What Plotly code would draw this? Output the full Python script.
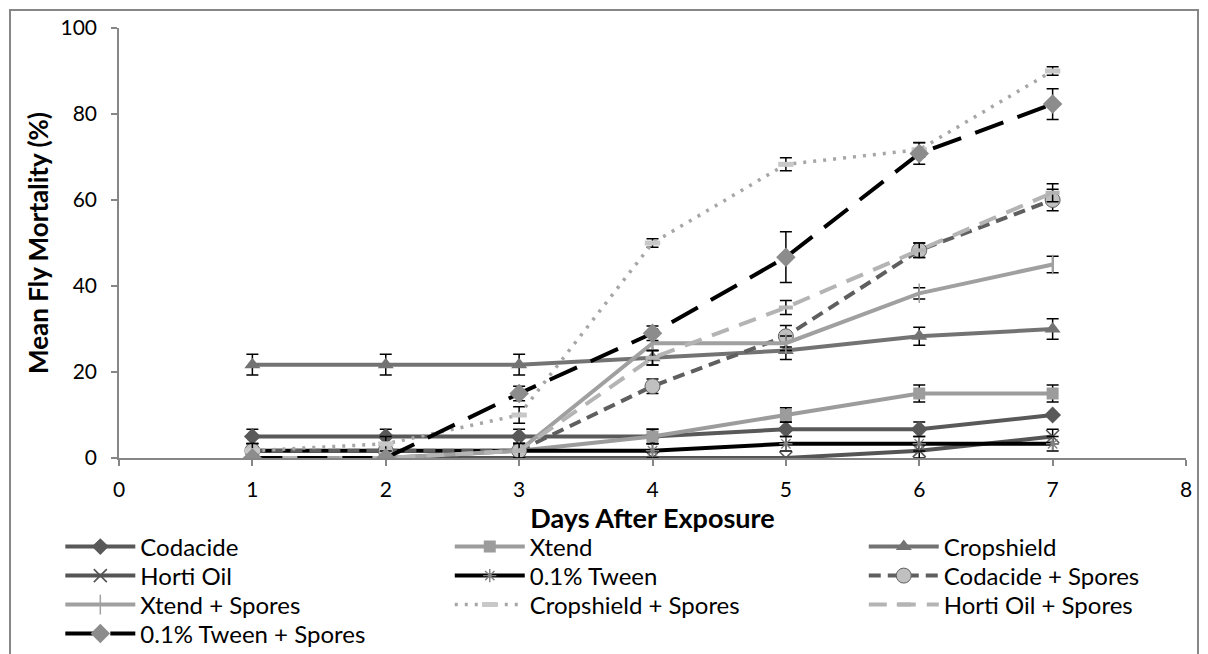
import plotly.graph_objects as go

# Days after exposure
days = [1, 2, 3, 4, 5, 6, 7]

# Mean fly mortality (%) and standard errors per treatment
codacide = [5, 5, 5, 5, 6.7, 6.7, 10]
codacide_err = [1.7, 1.7, 1.7, 1.7, 1.7, 1.7, 0]
xtend = [0, 0, 1.7, 5, 10, 15, 15]
xtend_err = [0, 0, 1.7, 1.7, 1.7, 2, 2]
cropshield = [21.7, 21.7, 21.7, 23.3, 25, 28.3, 30]
cropshield_err = [2.4, 2.4, 2.4, 1.7, 2.1, 2.1, 2.4]
horti_oil = [0, 0, 0, 0, 0, 1.7, 5]
horti_oil_err = [0, 0, 0, 0, 0, 1.7, 1.7]
tween = [1.7, 1.7, 1.7, 1.7, 3.3, 3.3, 3.3]
tween_err = [1.7, 1.7, 1.7, 1.7, 1.7, 1.7, 1.7]
codacide_spores = [1.7, 1.7, 1.7, 16.7, 28.3, 48.3, 60]
codacide_spores_err = [0, 0, 1.7, 1.7, 2.5, 1.7, 2.5]
xtend_spores = [0, 0, 1.7, 26.7, 26.7, 38.3, 45]
xtend_spores_err = [0, 0, 0, 1.7, 1.7, 1.3, 1.9]
cropshield_spores = [1.7, 3.3, 10, 50, 68.3, 71.7, 90]
cropshield_spores_err = [1.7, 1.7, 1.9, 1, 1.5, 1.7, 1]
horti_oil_spores = [0, 0, 1.7, 23.3, 35, 48.3, 61.7]
horti_oil_spores_err = [0, 0, 1.7, 1.7, 1.6, 1.7, 2.1]
tween_spores = [0, 0, 15, 29, 46.7, 70.8, 82.3]
tween_spores_err = [0, 0, 1.7, 1.7, 5.9, 2.5, 3.6]

x_ticks = [0, 1, 2, 3, 4, 5, 6, 7, 8]
y_ticks = [0, 20, 40, 60, 80, 100]

FONT = "Lato"
AXIS_GREY = "#868686"

series = [
    # name, values, errors, line, marker
    ("Codacide", codacide, codacide_err,
     dict(color="#595959", width=4),
     dict(symbol="diamond", size=13, color="#595959")),
    ("Xtend", xtend, xtend_err,
     dict(color="#9c9c9c", width=4),
     dict(symbol="square", size=12, color="#9c9c9c")),
    ("Cropshield", cropshield, cropshield_err,
     dict(color="#737373", width=4),
     dict(symbol="triangle-up", size=14, color="#737373")),
    ("Horti Oil", horti_oil, horti_oil_err,
     dict(color="#555555", width=4),
     dict(symbol="x-thin-open", size=13, color="#555555",
          line=dict(color="#555555", width=1.6))),
    ("0.1% Tween", tween, tween_err,
     dict(color="#000000", width=4),
     dict(symbol="asterisk-open", size=11, color="#808080",
          line=dict(color="#808080", width=1.4))),
    ("Codacide + Spores", codacide_spores, codacide_spores_err,
     dict(color="#5f5f5f", width=4, dash="12px,7px"),
     dict(symbol="circle", size=15, color="#c0c0c0",
          line=dict(color="#5f5f5f", width=1))),
    ("Xtend + Spores", xtend_spores, xtend_spores_err,
     dict(color="#a0a0a0", width=4),
     dict(symbol="line-ns-open", size=14, color="#a0a0a0",
          line=dict(color="#a0a0a0", width=1.5))),
    ("Cropshield + Spores", cropshield_spores, cropshield_spores_err,
     dict(color="#a6a6a6", width=3.5, dash="3px,7px"),
     dict(symbol="line-ew-open", size=11, color="#c8c8c8",
          line=dict(color="#c8c8c8", width=5))),
    ("Horti Oil + Spores", horti_oil_spores, horti_oil_spores_err,
     dict(color="#b4b4b4", width=4, dash="18px,11px"),
     dict(symbol="line-ew-open", size=10, color="#b4b4b4",
          line=dict(color="#b4b4b4", width=4))),
    ("0.1% Tween + Spores", tween_spores, tween_spores_err,
     dict(color="#000000", width=4, dash="30px,15px"),
     dict(symbol="diamond", size=15, color="#8c8c8c")),
]

# Legend grid: three columns, filled row by row
PLOT_TOP, PLOT_BOTTOM = 28, 458
PLOT_H = PLOT_BOTTOM - PLOT_TOP
legend_cols = [-0.055, 0.310, 0.698]
legend_rows_px = [547, 576, 605, 634]

fig = go.Figure()
legend_layouts = {}
for i, (name, vals, errs, line, marker) in enumerate(series):
    key = "legend" if i == 0 else f"legend{i + 1}"
    row, col = divmod(i, 3)
    legend_layouts[key] = dict(
        orientation="v", xanchor="left", yanchor="middle",
        x=legend_cols[col],
        y=(PLOT_BOTTOM - legend_rows_px[row]) / PLOT_H,
        font=dict(family=FONT, size=24, color="#000000"),
        bgcolor="rgba(0,0,0,0)", itemwidth=70, itemclick=False,
    )
    fig.add_trace(go.Scatter(
        x=days, y=vals, name=name, mode="lines+markers",
        line=line, marker=marker, legend=key,
        error_y=dict(type="data", array=errs, visible=True,
                     color="#000000", thickness=1.5, width=6),
    ))

fig.update_layout(
    width=1208, height=654,
    margin=dict(l=119, r=22, t=PLOT_TOP, b=654 - PLOT_BOTTOM, autoexpand=False),
    paper_bgcolor="white", plot_bgcolor="white",
    font=dict(family=FONT, size=21, color="#000000"),
    showlegend=True,
    xaxis=dict(
        range=[0, 8], tickvals=x_ticks, ticktext=[str(v) for v in x_ticks],
        showgrid=False, zeroline=False, showline=True,
        linecolor=AXIS_GREY, linewidth=1.5,
        ticks="outside", ticklen=6, tickcolor=AXIS_GREY, tickwidth=1.5,
        tickfont=dict(family=FONT, size=21), ticklabelstandoff=6,
        title=dict(text="<b>Days After Exposure</b>",
                   font=dict(family=FONT, size=27), standoff=0),
    ),
    yaxis=dict(
        range=[0, 100], tickvals=y_ticks, ticktext=[str(v) for v in y_ticks],
        showgrid=False, zeroline=False, showline=True,
        linecolor=AXIS_GREY, linewidth=1.5,
        ticks="outside", ticklen=6, tickcolor=AXIS_GREY, tickwidth=1.5,
        tickfont=dict(family=FONT, size=21), ticklabelstandoff=10,
        title=dict(text="<b>Mean Fly Mortality (%)</b>",
                   font=dict(family=FONT, size=26), standoff=4),
    ),
    shapes=[dict(
        type="rect", xref="paper", yref="paper",
        x0=(10 - 119) / 1067, x1=(1198 - 119) / 1067,
        y0=(PLOT_BOTTOM - 700) / PLOT_H, y1=(PLOT_BOTTOM - 10) / PLOT_H,
        line=dict(color=AXIS_GREY, width=2), fillcolor="rgba(0,0,0,0)",
        layer="below",
    )],
    **legend_layouts,
)

fig.write_html("out.html")
